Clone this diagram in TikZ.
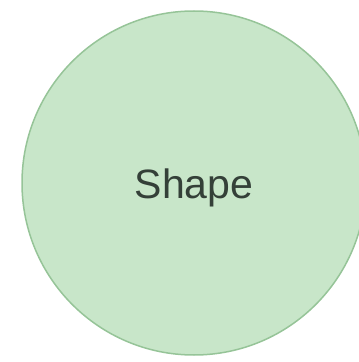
\documentclass[tikz,border=0pt]{standalone}
\usepackage{fontspec}
\setmainfont{Liberation Sans}
\usepackage{xcolor}
\usepackage{tikz}

\definecolor{shapefill}{RGB}{200,230,201}
\definecolor{shapeline}{RGB}{150,196,152}
\definecolor{shapetext}{RGB}{52,64,56}

\begin{document}
\begin{tikzpicture}[x=1pt,y=1pt,
  blob/.style={circle,draw=shapeline,fill=shapefill,line width=1.5pt,
    minimum size=344pt,inner sep=0pt,text=shapetext,
    font=\fontsize{41}{49}\selectfont}]
  \useasboundingbox (0,0) rectangle (359,362);
  \clip (0,0) rectangle (359,362);
  \node[blob] (shape) at (194,179) {\raisebox{-5pt}[\height][\depth]{Shape}};
\end{tikzpicture}
\end{document}
